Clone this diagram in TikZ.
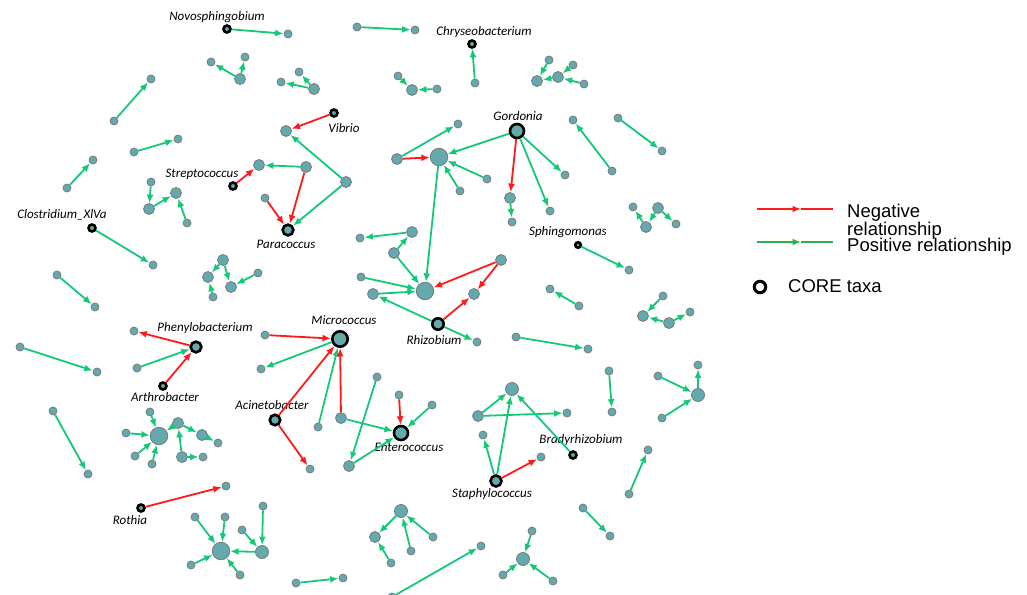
\documentclass[tikz,border=0pt]{standalone}
\usepackage{fontspec}
\setmainfont{Carlito}
\newfontfamily\legendfont{Liberation Sans}
\usepackage{tikz}
\usetikzlibrary{arrows.meta,positioning}
\definecolor{nodefill}{HTML}{63A9AD}
\definecolor{nodeedge}{HTML}{7A7A7A}
\definecolor{posgreen}{HTML}{14C878}
\definecolor{negred}{HTML}{FF1A1A}
\definecolor{leggreen}{HTML}{2DB24A}

\begin{document}
\begin{tikzpicture}[
  x=1pt, y=-1pt,
  otu/.style    ={circle, draw=nodeedge, line width=0.8pt, fill=nodefill, inner sep=0pt, minimum size=8pt},
  otumid/.style ={otu, minimum size=11pt},
  otulg/.style  ={otu, minimum size=13pt},
  hub/.style    ={otu, minimum size=17.5pt},
  core/.style   ={circle, draw=black, line width=2.6pt, fill=nodefill, inner sep=0pt, minimum size=#1},
  core/.default =7pt,
  lbl/.style    ={font=\fontsize{13}{15}\selectfont\itshape, inner sep=0pt},
  posedge/.style={draw=posgreen, line width=1.8pt, -{Latex[length=8.5pt,width=7pt]}},
  negedge/.style={draw=negred, line width=1.8pt, -{Latex[length=8.5pt,width=7pt]}},
  legtext/.style={font=\legendfont\fontsize{18.5}{17}\selectfont, inner sep=0pt, align=left},
]
  \useasboundingbox (0,0) rectangle (1027,594);

  % core taxa
  \node[core]       (novo)    at (227,29)  {};
  \node[core]       (chryseo) at (472,44)  {};
  \node[core]       (vibrio)  at (334,113) {};
  \node[core]       (strep)   at (233,186) {};
  \node[core=10.7pt](para)    at (288,230) {};
  \node[core=14pt]  (gord)    at (517,131) {};
  \node[core]       (clos)    at (92,228)  {};
  \node[core=5.5pt] (sphingo) at (578,245) {};
  \node[core=10.7pt](pheno)   at (196,347) {};
  \node[core=15.4pt](micro)   at (340,339) {};
  \node[core=11.4pt](rhizo)   at (438,324) {};
  \node[core]       (arthro)  at (163,386) {};
  \node[core=10.5pt](acin)    at (275,420) {};
  \node[core=14pt]  (entero)  at (401,433) {};
  \node[core]       (brady)   at (573,455) {};
  \node[core=11pt]  (staph)   at (496,481) {};
  \node[core]       (rothia)  at (141,508) {};

  \node[lbl] at (217,17)  {Novosphingobium};
  \node[lbl] at (484,32)  {Chryseobacterium};
  \node[lbl] at (344,128) {Vibrio};
  \node[lbl] at (202,174) {Streptococcus};
  \node[lbl] at (286,244) {Paracoccus};
  \node[lbl] at (518,116) {Gordonia};
  \node[lbl] at (62,215)  {Clostridium\_XlVa};
  \node[lbl] at (568,232) {Sphingomonas};
  \node[lbl] at (205,328) {Phenylobacterium};
  \node[lbl] at (344,320) {Micrococcus};
  \node[lbl] at (434,340) {Rhizobium};
  \node[lbl] at (165,397) {Arthrobacter};
  \node[lbl] at (272,405) {Acinetobacter};
  \node[lbl] at (409,447) {Enterococcus};
  \node[lbl] at (581,440) {Bradyrhizobium};
  \node[lbl] at (492,494) {Staphylococcus};
  \node[lbl] at (130,520) {Rothia};

  % other otus
  \node[otu]    (t1)  at (288,34)  {};
  \node[otumid] (a1)  at (240,79)  {};
  \node[otu]    (a2)  at (211,62)  {};
  \node[otu]    (a3)  at (245,57)  {};
  \node[otu]    (s1a) at (114,121) {};
  \node[otu]    (s1b) at (151,79)  {};
  \node[otu]    (s2a) at (134,152) {};
  \node[otu]    (s2b) at (178,139) {};
  \node[otu]    (s3a) at (67,188)  {};
  \node[otu]    (s3b) at (93,160)  {};
  \node[otu]    (b1)  at (151,182) {};
  \node[otumid] (b2)  at (149,209) {};
  \node[otumid] (b3)  at (176,193) {};
  \node[otu]    (b4)  at (187,223) {};
  \node[otu]    (s4a) at (357,27)  {};
  \node[otu]    (s4b) at (415,30)  {};
  \node[otu]    (s5a) at (475,83)  {};
  \node[otu]    (c1)  at (299,72)  {};
  \node[otu]    (c2)  at (281,82)  {};
  \node[otumid] (c3)  at (314,89)  {};
  \node[otu]    (d1)  at (398,76)  {};
  \node[otumid] (d2)  at (412,90)  {};
  \node[otu]    (d3)  at (437,89)  {};
  \node[otumid] (v1)  at (286,131) {};
  \node[otumid] (v2)  at (346,182) {};
  \node[otumid] (v3)  at (259,165) {};
  \node[otumid] (v4)  at (306,167) {};
  \node[otu]    (v5)  at (265,198) {};
  \node[hub]    (g1)  at (439,157) {};
  \node[otumid] (g2)  at (397,159) {};
  \node[otu]    (g3)  at (458,124) {};
  \node[otu]    (g4)  at (487,179) {};
  \node[otu]    (g5)  at (460,191) {};
  \node[otumid] (g6)  at (510,198) {};
  \node[otu]    (g7)  at (512,222) {};
  \node[otu]    (g8)  at (565,175) {};
  \node[otu]    (g9)  at (550,211) {};
  \node[otu]    (e1)  at (573,120) {};
  \node[otu]    (e2)  at (612,171) {};
  \node[otu]    (s6a) at (618,118) {};
  \node[otu]    (s6b) at (662,151) {};
  \node[otu]    (f1)  at (549,60)  {};
  \node[otu]    (f2)  at (573,65)  {};
  \node[otumid] (f3)  at (558,77)  {};
  \node[otumid] (f4)  at (537,81)  {};
  \node[otu]    (f5)  at (584,84)  {};
  \node[hub]    (r0)  at (425,291) {};
  \node[otumid] (r1)  at (412,232) {};
  \node[otu]    (r2)  at (360,238) {};
  \node[otumid] (r3)  at (394,253) {};
  \node[otu]    (r4)  at (361,277) {};
  \node[otumid] (r5)  at (373,294) {};
  \node[otumid] (r6)  at (501,260) {};
  \node[otumid] (r7)  at (474,294) {};
  \node[otu]    (r8)  at (477,342) {};
  \node[otu]    (h1)  at (633,207) {};
  \node[otumid] (h2)  at (658,208) {};
  \node[otumid] (h3)  at (646,227) {};
  \node[otu]    (h4)  at (676,224) {};
  \node[otu]    (s7)  at (629,270) {};
  \node[otu]    (s8a) at (579,306) {};
  \node[otu]    (s8b) at (550,289) {};
  \node[otu]    (s9a) at (516,337) {};
  \node[otu]    (s9b) at (588,349) {};
  \node[otu]    (k1)  at (663,296) {};
  \node[otumid] (k2)  at (643,316) {};
  \node[otumid] (k3)  at (669,323) {};
  \node[otu]    (k4)  at (690,312) {};
  \node[otu]    (s10a) at (609,371) {};
  \node[otu]    (s10b) at (612,412) {};
  \node[otu]    (q1)  at (658,376) {};
  \node[otulg]  (q2)  at (698,395) {};
  \node[otu]    (q3)  at (698,365) {};
  \node[otu]    (q4)  at (662,418) {};
  \node[otulg]  (st1) at (512,389) {};
  \node[otumid] (st2) at (478,416) {};
  \node[otu]    (st3) at (567,413) {};
  \node[otu]    (st4) at (483,435) {};
  \node[otu]    (st5) at (541,457) {};
  \node[otu]    (s11a) at (629,494) {};
  \node[otu]    (s11b) at (648,450) {};
  \node[otu]    (s12a) at (583,508) {};
  \node[otu]    (s12b) at (610,536) {};
  \node[otu]    (w1)  at (532,531) {};
  \node[otulg]  (w2)  at (523,559) {};
  \node[otu]    (w3)  at (503,575) {};
  \node[otu]    (w4)  at (553,581) {};
  \node[otu]    (s13a) at (392,597) {};
  \node[otu]    (s13b) at (481,546) {};
  \node[otu]    (m1)  at (265,335) {};
  \node[otu]    (m2)  at (261,369) {};
  \node[otu]    (m3)  at (310,469) {};
  \node[otu]    (m4)  at (318,427) {};
  \node[otumid] (m5)  at (341,418) {};
  \node[otu]    (m6)  at (399,395) {};
  \node[otu]    (m7)  at (432,405) {};
  \node[otu]    (m8)  at (377,377) {};
  \node[otumid] (m9)  at (349,466) {};
  \node[otulg]  (x1)  at (401,511) {};
  \node[otumid] (x2)  at (375,537) {};
  \node[otu]    (x3)  at (433,537) {};
  \node[otu]    (x4)  at (411,551) {};
  \node[otu]    (x5)  at (391,563) {};
  \node[otu]    (s14a) at (296,583) {};
  \node[otu]    (s14b) at (343,578) {};
  \node[hub]    (y0)  at (221,551) {};
  \node[otulg]  (y1)  at (262,552) {};
  \node[otu]    (y2)  at (225,517) {};
  \node[otu]    (y3)  at (195,517) {};
  \node[otu]    (y4)  at (191,565) {};
  \node[otu]    (y5)  at (240,575) {};
  \node[otu]    (y6)  at (242,530) {};
  \node[otu]    (y7)  at (263,506) {};
  \node[hub]    (z0)  at (159,436) {};
  \node[otu]    (z1)  at (150,412) {};
  \node[otu]    (z2)  at (126,433) {};
  \node[otu]    (z3)  at (135,456) {};
  \node[otu]    (z4)  at (152,464) {};
  \node[otumid] (z5)  at (178,423) {};
  \node[otumid] (z6)  at (202,435) {};
  \node[otu]    (z7)  at (218,443) {};
  \node[otumid] (z8)  at (182,457) {};
  \node[otu]    (z9)  at (203,457) {};
  \node[otu]    (s15) at (226,486) {};
  \node[otu]    (s16a) at (53,411) {};
  \node[otu]    (s16b) at (88,474) {};
  \node[otu]    (s17) at (153,265) {};
  \node[otu]    (s18a) at (57,275) {};
  \node[otu]    (s18b) at (95,307) {};
  \node[otu]    (s19a) at (20,347) {};
  \node[otu]    (s19b) at (97,372) {};
  \node[otu]    (p1)  at (134,331) {};
  \node[otu]    (p2)  at (137,368) {};
  \node[otumid] (u1)  at (223,260) {};
  \node[otumid] (u2)  at (208,277) {};
  \node[otu]    (u3)  at (213,297) {};
  \node[otumid] (u4)  at (231,287) {};
  \node[otu]    (u5)  at (258,273) {};

  % connectors
  \draw[posedge] (novo) -- (t1);
  \draw[posedge] (a1) -- (a2);
  \draw[posedge] (a1) -- (a3);
  \draw[posedge] (s1a) -- (s1b);
  \draw[posedge] (s2a) -- (s2b);
  \draw[posedge] (s3a) -- (s3b);
  \draw[posedge] (b1) -- (b2);
  \draw[posedge] (b2) -- (b3);
  \draw[posedge] (b4) -- (b3);
  \draw[posedge] (s4a) -- (s4b);
  \draw[posedge] (s5a) -- (chryseo);
  \draw[posedge] (c3) -- (c2);
  \draw[posedge] (c3) -- (c1);
  \draw[posedge] (d1) -- (d2);
  \draw[posedge] (d3) -- (d2);
  \draw[negedge] (vibrio) -- (v1);
  \draw[posedge] (v2) -- (v1);
  \draw[posedge] (v2) -- (para);
  \draw[negedge] (strep) -- (v3);
  \draw[posedge] (v4) -- (v3);
  \draw[negedge] (v4) -- (para);
  \draw[negedge] (v5) -- (para);
  \draw[posedge] (g2) -- (g3);
  \draw[negedge] (g2) -- (g1);
  \draw[posedge] (gord) -- (g1);
  \draw[posedge] (g4) -- (g1);
  \draw[posedge] (g5) -- (g1);
  \draw[posedge] (g1) -- (r0);
  \draw[negedge] (gord) -- (g6);
  \draw[posedge] (g6) -- (g7);
  \draw[posedge] (gord) -- (g8);
  \draw[posedge] (gord) -- (g9);
  \draw[posedge] (e2) -- (e1);
  \draw[posedge] (s6a) -- (s6b);
  \draw[posedge] (f1) -- (f4);
  \draw[posedge] (f2) -- (f3);
  \draw[posedge] (f3) -- (f4);
  \draw[posedge] (f5) -- (f3);
  \draw[posedge] (r1) -- (r2);
  \draw[posedge] (r3) -- (r1);
  \draw[posedge] (r3) -- (r0);
  \draw[posedge] (r4) -- (r0);
  \draw[posedge] (r5) -- (r0);
  \draw[posedge] (rhizo) -- (r5);
  \draw[negedge] (r6) -- (r0);
  \draw[negedge] (r6) -- (r7);
  \draw[negedge] (rhizo) -- (r7);
  \draw[posedge] (rhizo) -- (r8);
  \draw[posedge] (h3) -- (h1);
  \draw[posedge] (h2) -- (h3);
  \draw[posedge] (h2) -- (h4);
  \draw[posedge] (sphingo) -- (s7);
  \draw[posedge] (s8a) -- (s8b);
  \draw[posedge] (s9a) -- (s9b);
  \draw[posedge] (k1) -- (k2);
  \draw[posedge] (k3) -- (k2);
  \draw[posedge] (k3) -- (k4);
  \draw[posedge] (s10a) -- (s10b);
  \draw[posedge] (q1) -- (q2);
  \draw[posedge] (q2) -- (q3);
  \draw[posedge] (q4) -- (q2);
  \draw[posedge] (st2) -- (st1);
  \draw[posedge] (st2) -- (st3);
  \draw[posedge] (staph) -- (st1);
  \draw[posedge] (staph) -- (st4);
  \draw[negedge] (staph) -- (st5);
  \draw[posedge] (brady) -- (st1);
  \draw[posedge] (s11a) -- (s11b);
  \draw[posedge] (s12a) -- (s12b);
  \draw[posedge] (w1) -- (w2);
  \draw[posedge] (w3) -- (w2);
  \draw[posedge] (w4) -- (w2);
  \draw[posedge] (s13a) -- (s13b);
  \draw[negedge] (m1) -- (micro);
  \draw[posedge] (micro) -- (m2);
  \draw[negedge] (acin) -- (micro);
  \draw[negedge] (acin) -- (m3);
  \draw[posedge] (m4) -- (micro);
  \draw[negedge] (m5) -- (micro);
  \draw[posedge] (m5) -- (entero);
  \draw[negedge] (m6) -- (entero);
  \draw[posedge] (m7) -- (entero);
  \draw[posedge] (m8) -- (m9);
  \draw[posedge] (m9) -- (entero);
  \draw[posedge] (x1) -- (x2);
  \draw[posedge] (x3) -- (x1);
  \draw[posedge] (x4) -- (x1);
  \draw[posedge] (x5) -- (x2);
  \draw[posedge] (s14a) -- (s14b);
  \draw[posedge] (y2) -- (y0);
  \draw[posedge] (y3) -- (y0);
  \draw[posedge] (y4) -- (y0);
  \draw[posedge] (y5) -- (y0);
  \draw[posedge] (y1) -- (y0);
  \draw[posedge] (y6) -- (y1);
  \draw[posedge] (y7) -- (y1);
  \draw[posedge] (z1) -- (z0);
  \draw[posedge] (z2) -- (z0);
  \draw[posedge] (z3) -- (z0);
  \draw[posedge] (z4) -- (z0);
  \draw[posedge] (z5) -- (z0);
  \draw[posedge] (z5) -- (z6);
  \draw[posedge] (z6) -- (z7);
  \draw[posedge] (z8) -- (z5);
  \draw[posedge] (z8) -- (z9);
  \draw[negedge] (rothia) -- (s15);
  \draw[posedge] (s16a) -- (s16b);
  \draw[posedge] (clos) -- (s17);
  \draw[posedge] (s18a) -- (s18b);
  \draw[posedge] (s19a) -- (s19b);
  \draw[negedge] (pheno) -- (p1);
  \draw[posedge] (p2) -- (pheno);
  \draw[negedge] (arthro) -- (pheno);
  \draw[posedge] (u1) -- (u2);
  \draw[posedge] (u1) -- (u4);
  \draw[posedge] (u3) -- (u2);
  \draw[posedge] (u5) -- (u4);

  % legend
  \coordinate (ln1) at (757,209);
  \coordinate (ln2) at (801,209);
  \coordinate (ln3) at (833,209);
  \coordinate (lp1) at (757,242);
  \coordinate (lp2) at (801,242);
  \coordinate (lp3) at (833,242);
  \draw[negedge] (ln1) -- (ln2);
  \draw[draw=negred, line width=1.8pt] (ln2) -- (ln3);
  \draw[draw=leggreen, line width=1.8pt, -{Latex[length=8.5pt,width=7pt]}] (lp1) -- (lp2);
  \draw[draw=leggreen, line width=1.8pt] (lp2) -- (lp3);
  \node[legtext, anchor=north west] (lneg) at (847,204) {Negative\\relationship};
  \node[legtext, anchor=base west]  (lpos) at (847,251) {Positive relationship};
  \node[circle, draw=black, line width=3pt, fill=white, inner sep=0pt, minimum size=11.5pt] (lcore) at (760,287) {};
  \node[legtext, anchor=base west]  (lcoretext) at (788,292) {CORE taxa};
\end{tikzpicture}
\end{document}
